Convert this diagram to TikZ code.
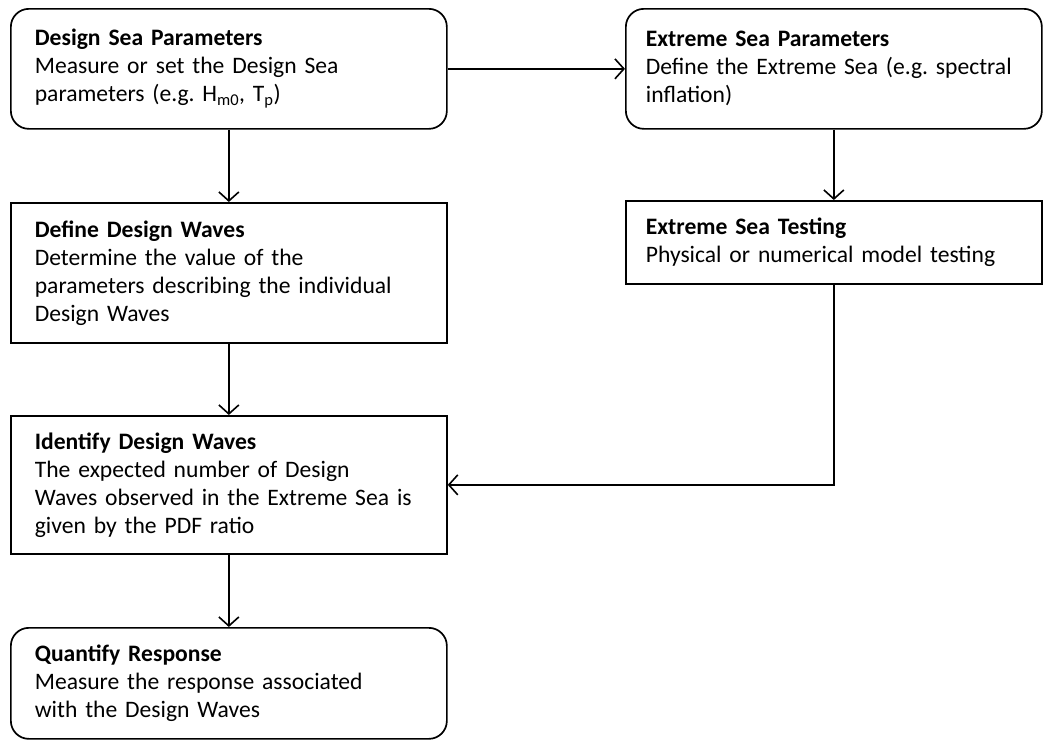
\documentclass[tikz,border=0pt]{standalone}
\usepackage{fontspec}
\setmainfont{Carlito}
\usetikzlibrary{arrows.meta}
\begin{document}
\begin{tikzpicture}[x=1pt,y=-1pt,
  box/.style={draw=black,line width=1.7pt,anchor=north west,align=left,
    inner xsep=24pt,inner ysep=0pt,
    font=\fontsize{23.6}{28}\selectfont},
  roundbox/.style={box,rounded corners=18pt},
  arr/.style={draw=black,line width=1.6pt,-{Straight Barb[length=9pt,width=20pt,line width=1.6pt]}}]
\useasboundingbox (0,0) rectangle (1050,745);

% left column
\node[roundbox,text width=388pt,minimum height=120pt] (dsp) at (10,8)
  {\textbf{Design Sea Parameters}\\Measure or set the Design Sea\\parameters (e.g.\ H\textsubscript{m0}, T\textsubscript{p})};
\node[box,text width=388pt,minimum height=140pt] (ddw) at (10,202)
  {\textbf{Define Design Waves}\\Determine the value of the\\parameters describing the individual\\Design Waves};
\node[box,text width=388pt,minimum height=138pt] (idw) at (10,415)
  {\textbf{Identify Design Waves}\\The expected number of Design\\Waves observed in the Extreme Sea is\\given by the PDF ratio};
\node[roundbox,text width=388pt,minimum height=111pt] (qr) at (10,627)
  {\textbf{Quantify Response}\\Measure the response associated\\with the Design Waves};

% right column
\node[roundbox,text width=376pt,inner xsep=20pt,minimum height=120pt] (esp) at (625,8)
  {\textbf{Extreme Sea Parameters}\\Define the Extreme Sea (e.g.\ spectral\\inflation)};
\node[box,text width=376pt,inner xsep=20pt,minimum height=83pt] (est) at (625,200)
  {\textbf{Extreme Sea Testing}\\Physical or numerical model testing};

% connectors
\draw[arr] (dsp) -- (esp);
\draw[arr] (dsp) -- (ddw);
\draw[arr] (ddw) -- (idw);
\draw[arr] (idw) -- (qr);
\draw[arr] (esp) -- (est);
\draw[arr] (est.south) |- (idw.east);
\end{tikzpicture}
\end{document}
